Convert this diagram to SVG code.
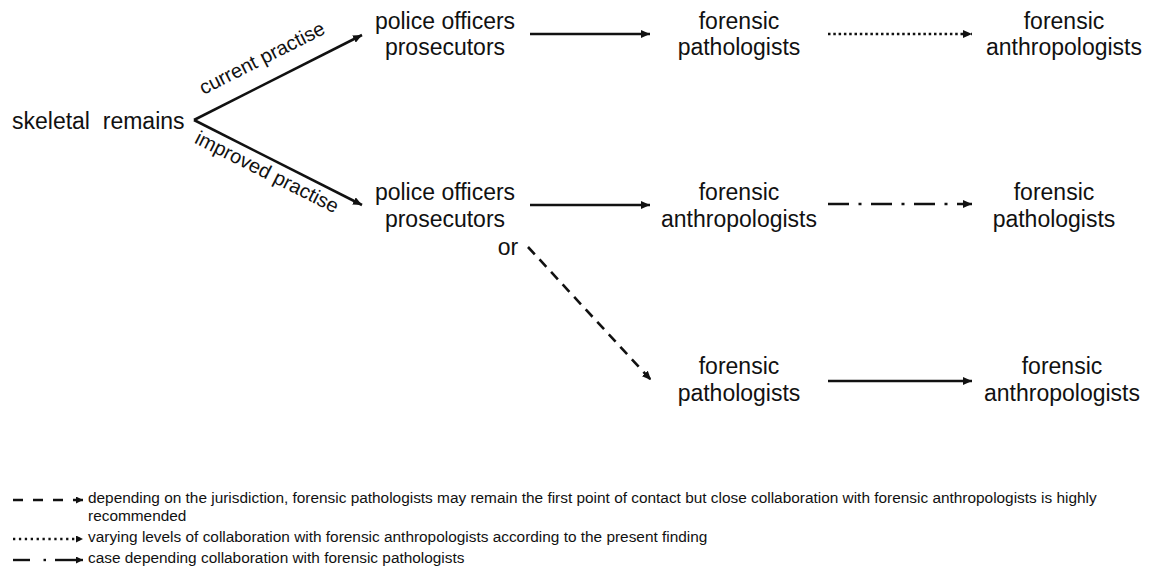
<svg xmlns="http://www.w3.org/2000/svg" width="1149" height="578" viewBox="0 0 1149 578">
<style>
.n{font-family:"Liberation Sans",Arial,sans-serif;font-size:23px;fill:#111;text-anchor:middle}
.lbl{font-family:"Liberation Sans",Arial,sans-serif;font-size:20px;fill:#111;text-anchor:middle}
.lg{font-family:"Liberation Sans",Arial,sans-serif;font-size:15.4px;fill:#111}
.c{stroke:#111;stroke-width:2.6;fill:none}
.cl{stroke:#111;stroke-width:2.4;fill:none}
</style>
<defs>
<marker id="ah" markerUnits="userSpaceOnUse" markerWidth="10" markerHeight="8" refX="9" refY="4" orient="auto"><path d="M0,0 L9,4 L0,8 Z" fill="#111"/></marker>
<marker id="ahs" markerUnits="userSpaceOnUse" markerWidth="8" markerHeight="7" refX="7" refY="3.5" orient="auto"><path d="M0,0 L7,3.5 L0,7 Z" fill="#111"/></marker>
</defs>
<g id="connectors">
<line class="c" x1="194" y1="120" x2="362" y2="35" marker-end="url(#ah)"/>
<line class="c" x1="194" y1="120" x2="362" y2="205" marker-end="url(#ah)"/>
<line class="c" x1="530" y1="34" x2="650" y2="34" marker-end="url(#ah)"/>
<line class="c" x1="828" y1="34" x2="972" y2="34" stroke-dasharray="2.5 2.8" marker-end="url(#ah)"/>
<line class="c" x1="530" y1="205" x2="650" y2="205" marker-end="url(#ah)"/>
<line class="c" x1="828" y1="204" x2="972" y2="204" stroke-dasharray="21 9.5 3 9.5" marker-end="url(#ah)"/>
<line class="c" x1="528" y1="247" x2="651" y2="380" stroke-dasharray="10 7" marker-end="url(#ah)"/>
<line class="c" x1="828" y1="381" x2="972" y2="381" marker-end="url(#ah)"/>
</g>
<g id="edge-labels">
<text class="lbl" transform="translate(265 64) rotate(-26.8)">current practise</text>
<text class="lbl" transform="translate(264 178) rotate(26.8)">improved practise</text>
</g>
<g id="skeletal-remains"><text class="n" x="12" y="129" style="text-anchor:start;white-space:pre" xml:space="preserve">skeletal  remains</text></g>
<g id="police-1"><text class="n" x="445" y="29">police officers</text><text class="n" x="445" y="55">prosecutors</text></g>
<g id="path-1"><text class="n" x="739" y="29">forensic</text><text class="n" x="739" y="55">pathologists</text></g>
<g id="anth-1"><text class="n" x="1064" y="29">forensic</text><text class="n" x="1064" y="55">anthropologists</text></g>
<g id="police-2"><text class="n" x="445" y="200">police officers</text><text class="n" x="445" y="227">prosecutors</text><text class="n" x="508" y="255">or</text></g>
<g id="anth-2"><text class="n" x="739" y="200">forensic</text><text class="n" x="739" y="227">anthropologists</text></g>
<g id="path-2"><text class="n" x="1054" y="200">forensic</text><text class="n" x="1054" y="227">pathologists</text></g>
<g id="path-3"><text class="n" x="739" y="374">forensic</text><text class="n" x="739" y="401">pathologists</text></g>
<g id="anth-3"><text class="n" x="1062" y="374">forensic</text><text class="n" x="1062" y="401">anthropologists</text></g>
<g id="legend">
<line class="cl" x1="13" y1="500" x2="83" y2="500" stroke-dasharray="10 10" marker-end="url(#ahs)"/>
<text class="lg" x="88" y="503">depending on the jurisdiction, forensic pathologists may remain the first point of contact but close collaboration with forensic anthropologists is highly</text>
<text class="lg" x="88" y="521">recommended</text>
<line class="cl" x1="13" y1="539" x2="83" y2="539" stroke-dasharray="2.3 3.6" marker-end="url(#ahs)"/>
<text class="lg" x="88" y="542">varying levels of collaboration with forensic anthropologists according to the present finding</text>
<line class="cl" x1="13" y1="560" x2="30" y2="560"/>
<line class="cl" x1="43.5" y1="560" x2="46" y2="560"/>
<line class="cl" x1="55" y1="560" x2="83" y2="560" marker-end="url(#ahs)"/>
<text class="lg" x="88" y="563">case depending collaboration with forensic pathologists</text>
</g>
</svg>
